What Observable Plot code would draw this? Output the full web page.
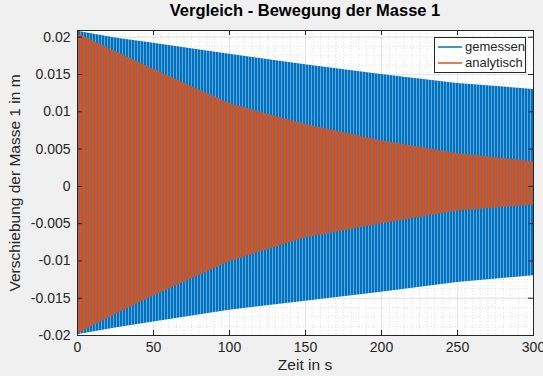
<!DOCTYPE html>
<html><head><meta charset="utf-8">
<script src="https://cdn.jsdelivr.net/npm/d3@7"></script>
<script src="https://cdn.jsdelivr.net/npm/@observablehq/plot@0.6"></script>
<style>
body{margin:0;background:#f0f0f0;font-family:"Liberation Sans",Arial,Helvetica,sans-serif;color:#262626;}
#wrap{position:relative;width:543px;height:376px;overflow:hidden;}
#wrap > svg{position:absolute;left:0;top:0;}
.abs{position:absolute;white-space:nowrap;}
#title{left:305px;top:1px;transform:translateX(-50%);font-weight:bold;font-size:16.5px;color:#000;}
#xlabel{left:305px;top:356px;transform:translateX(-50%);font-size:15.5px;}
#ylabel{left:15px;top:183px;transform:translate(-50%,-50%) rotate(-90deg);font-size:15.5px;}
#legend{left:434px;top:37px;width:90px;height:34px;background:#fff;border:1px solid #262626;font-size:13px;}
.li{position:absolute;left:3px;height:16px;line-height:16px;display:flex;align-items:center;}
.li svg{margin-right:3px;}
</style></head><body>
<div id="wrap">
  <div id="title" class="abs">Vergleich - Bewegung der Masse 1</div>
  <div id="xlabel" class="abs">Zeit in s</div>
  <div id="ylabel" class="abs">Verschiebung der Masse 1 in m</div>
</div>
<script>
// envelope readings (time in s, displacement in m)
const times        = [0, 25, 50, 100, 150, 200, 250, 300];
const gemessenMax  = [0.0208, 0.0199, 0.0192, 0.0177, 0.0163, 0.0150, 0.0138, 0.0130];
const gemessenMin  = [-0.0199, -0.0190, -0.0182, -0.0166, -0.0154, -0.0142, -0.0129, -0.0120];
const analytMax    = [0.0205, 0.0181, 0.0157, 0.0111, 0.0083, 0.0061, 0.0044, 0.0033];
const analytMin    = [-0.0198, -0.0172, -0.0147, -0.0101, -0.0069, -0.0050, -0.0033, -0.0025];
const seriesNames  = ["gemessen", "analytisch"];
const seriesColors = ["#0072BD", "#D95319"];
const xTicks = [0, 50, 100, 150, 200, 250, 300];
const yTicks = [-0.02, -0.015, -0.01, -0.005, 0, 0.005, 0.01, 0.015, 0.02];
const yTickLabels = ["-0.02", "-0.015", "-0.01", "-0.005", "0", "0.005", "0.01", "0.015", "0.02"];
const xMinor = d3.range(0, 301, 5);
const yMinor = d3.range(-0.02, 0.0211, 0.00125);

const blue = times.map((t, i) => ({t, lo: gemessenMin[i], hi: gemessenMax[i]}));
const orange = times.map((t, i) => ({t, lo: analytMin[i], hi: analytMax[i]}));

const defs = () => {
  const g = d3.create("svg:defs");
  const p1 = g.append("pattern").attr("id", "pb").attr("patternUnits", "userSpaceOnUse")
    .attr("width", 3).attr("height", 10);
  p1.append("rect").attr("width", 3).attr("height", 10).attr("fill", "#0072BD");
  p1.append("rect").attr("x", 2).attr("width", 1).attr("height", 10).attr("fill", "#5ea8df");
  const p2 = g.append("pattern").attr("id", "po").attr("patternUnits", "userSpaceOnUse")
    .attr("width", 3).attr("height", 10);
  p2.append("rect").attr("width", 3).attr("height", 10).attr("fill", "#D95319");
  p2.append("rect").attr("x", 1).attr("width", 1).attr("height", 10).attr("fill", "#7a6a80");
  return g.node();
};

const chart = Plot.plot({
  width: 543, height: 376,
  marginLeft: 77, marginRight: 10, marginTop: 30, marginBottom: 41,
  style: {background: "#f0f0f0", fontSize: "14px", fontFamily: "Liberation Sans, Arial, sans-serif", color: "#262626"},
  x: {domain: [0, 300], label: null},
  y: {domain: [-0.02, 0.0209], label: null},
  marks: [
    defs,
    Plot.frame({fill: "white", stroke: null}),
    Plot.ruleX(xMinor, {stroke: "#d8d8d8", strokeDasharray: "1,2", strokeWidth: 0.8}),
    Plot.ruleY(yMinor, {stroke: "#d8d8d8", strokeDasharray: "1,2", strokeWidth: 0.8}),
    Plot.ruleX(xTicks, {stroke: "#dedede", strokeWidth: 0.8}),
    Plot.ruleY(yTicks, {stroke: "#dedede", strokeWidth: 0.8}),
    Plot.areaY(blue, {x: "t", y1: "lo", y2: "hi", fill: "url(#pb)"}),
    Plot.areaY(orange, {x: "t", y1: "lo", y2: "hi", fill: "url(#po)"}),
    Plot.tickX(xTicks, {x: d => d, insetTop: 300, stroke: "#262626"}),
    Plot.tickX(xTicks, {x: d => d, insetBottom: 300, stroke: "#262626"}),
    Plot.tickY(yTicks, {y: d => d, insetRight: 451, stroke: "#262626"}),
    Plot.tickY(yTicks, {y: d => d, insetLeft: 451, stroke: "#262626"}),
    Plot.frame({stroke: "#262626", strokeWidth: 1}),
    Plot.axisX(xTicks, {tickSize: 0, tickPadding: 7, fontSize: 14, fill: "#262626"}),
    Plot.axisY(yTicks, {tickSize: 0, tickPadding: 7, fontSize: 14, fill: "#262626",
      tickFormat: d => yTickLabels[yTicks.indexOf(d)]})
  ]
});
const wrap = document.getElementById("wrap");
wrap.insertBefore(chart, wrap.firstChild);

const leg = d3.select(wrap).append("div").attr("id", "legend").attr("class", "abs");
seriesNames.forEach((n, i) => {
  const row = leg.append("div").attr("class", "li").style("top", (1 + i * 16) + "px");
  const s = row.append("svg").attr("width", 24).attr("height", 6);
  s.append("line").attr("x1", 0).attr("x2", 24).attr("y1", 3).attr("y2", 3)
    .attr("stroke", seriesColors[i]).attr("stroke-width", 1.5);
  row.append("span").text(n);
});
</script>
</body></html>
